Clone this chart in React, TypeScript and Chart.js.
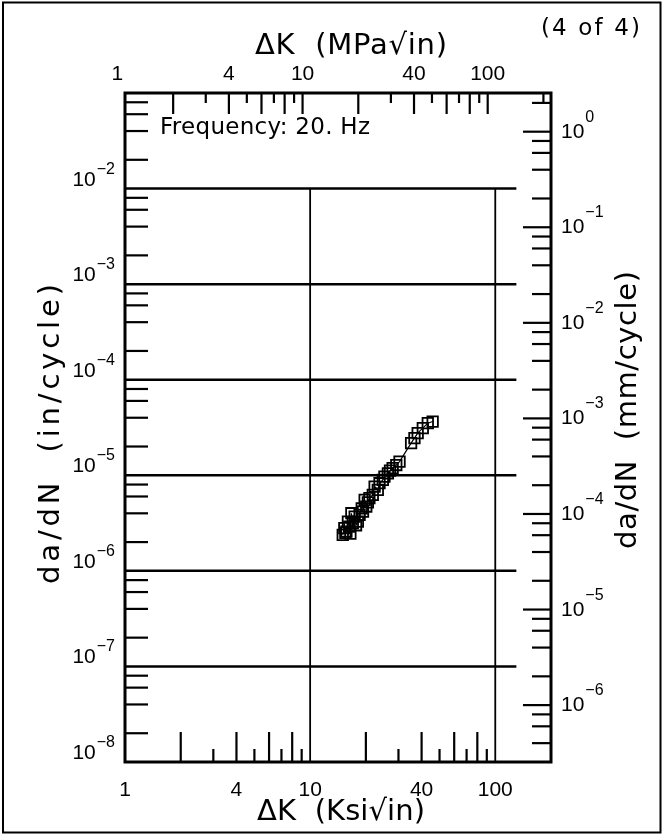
import React, { useEffect, useRef } from "react";
import { Chart, registerables } from "chart.js";

Chart.register(...registerables);

// ---------------- data ----------------
const DK_KSI = [
  15.0, 15.3, 15.5, 15.7, 16.0, 16.3, 16.5, 16.7, 17.0, 17.4, 17.7, 18.1, 18.5,
  19.0, 19.3, 19.7, 20.1, 20.5, 20.9, 21.8, 22.3, 23.2, 23.7, 24.7, 25.2, 26.3,
  27.0, 27.9, 29.2, 30.4, 35.1, 36.6, 38.1, 40.6, 43.2, 45.9,
];
const DADN_IN = [
  2.38e-6, 2.8e-6, 2.5e-6, 2.58e-6, 3.28e-6, 2.91e-6, 2.45e-6, 4.01e-6, 3.15e-6,
  3.7e-6, 3.0e-6, 3.28e-6, 3.85e-6, 4.5e-6, 4.17e-6, 5.53e-6, 4.71e-6, 5.2e-6,
  5.76e-6, 6.24e-6, 7.62e-6, 7.04e-6, 8.26e-6, 8.95e-6, 9.7e-6, 1.05e-5,
  1.12e-5, 1.19e-5, 1.28e-5, 1.39e-5, 2.17e-5, 2.45e-5, 2.76e-5, 3.11e-5,
  3.51e-5, 3.65e-5,
];

const X_MIN = 1;
const X_MAX = 200;
const Y_MIN = 1e-8;
const Y_MAX = 1e-1;
const KSI_TO_MPA = 1.0988;
const IN_TO_MM = 25.4;

const BOTTOM_LABELS = [1, 4, 10, 40, 100];
const TOP_LABELS = [1, 4, 10, 40, 100];
const BOTTOM_LONG_TICKS = [2, 4, 6, 8, 20, 40, 60, 80];
const BOTTOM_SHORT_TICKS = [3, 5, 7, 9, 30, 50, 70, 90];
const TOP_LONG_TICKS = [2, 4, 6, 8, 10, 20, 40, 60, 80, 100];
const TOP_SHORT_TICKS = [3, 5, 7, 9, 30, 50, 70, 90, 200];
const LEFT_DECADES = [-2, -3, -4, -5, -6, -7, -8];
const RIGHT_DECADES = [0, -1, -2, -3, -4, -5, -6];
const MINOR_MULT = [2, 4, 6, 8];
const GRID_Y = [1e-2, 1e-3, 1e-4, 1e-5, 1e-6, 1e-7];
const GRID_X = [10, 100];
const GRID_X_END = 130;
const GRID_Y_TOP = 1e-2;

const TITLE_TOP = "ΔK  (MPa√in)";
const TITLE_BOTTOM = "ΔK  (Ksi√in)";
const TITLE_LEFT = "da/dN  (in/cycle)";
const TITLE_RIGHT = "da/dN  (mm/cycle)";
const NOTE = "Frequency: 20. Hz";
const PAGE = "(4 of 4)";

const FONT = '"DejaVu Sans", "Liberation Sans", sans-serif';
const NUM_FONT = '"Liberation Sans", Arial, sans-serif';

function fitText(
  ctx: CanvasRenderingContext2D,
  s: string,
  x: number,
  y: number,
  size: number,
  width: number,
  align: "left" | "center" | "right" = "center",
  rot = 0
) {
  ctx.save();
  ctx.font = `${size}px ${FONT}`;
  ctx.textAlign = "left";
  ctx.textBaseline = "alphabetic";
  (ctx as any).letterSpacing = "0px";
  const natural = ctx.measureText(s).width;
  const n = Array.from(s).length;
  let ls = 0;
  if (width > 0 && n > 1) ls = (width - natural) / (n - 1);
  (ctx as any).letterSpacing = `${ls}px`;
  const w = natural + ls * (n - 1);
  ctx.translate(x, y);
  if (rot) ctx.rotate(rot);
  const x0 = align === "center" ? -w / 2 : align === "right" ? -w : 0;
  ctx.fillText(s, x0, 0);
  ctx.restore();
}

function seg(ctx: CanvasRenderingContext2D, x1: number, y1: number, x2: number, y2: number) {
  ctx.beginPath();
  ctx.moveTo(x1, y1);
  ctx.lineTo(x2, y2);
  ctx.stroke();
}

function powLabel(
  ctx: CanvasRenderingContext2D,
  exp: number,
  x: number,
  baseY: number,
  expY: number,
  align: "left" | "right"
) {
  ctx.save();
  ctx.textBaseline = "alphabetic";
  ctx.textAlign = "left";
  ctx.font = `21px ${NUM_FONT}`;
  const wb = ctx.measureText("10").width;
  const es = exp < 0 ? "\u2212" + Math.abs(exp) : String(exp);
  ctx.font = `16px ${NUM_FONT}`;
  const we = ctx.measureText(es).width;
  const total = wb + 1 + we;
  const x0 = align === "right" ? x - total : x;
  ctx.font = `21px ${NUM_FONT}`;
  ctx.fillText("10", x0, baseY);
  ctx.font = `16px ${NUM_FONT}`;
  ctx.fillText(es, x0 + wb + 1, expY);
  ctx.restore();
}

const gridPlugin = {
  id: "gridPartial",
  beforeDatasetsDraw(chart: any) {
    const ctx: CanvasRenderingContext2D = chart.ctx;
    const sx = chart.scales.x;
    const sy = chart.scales.y;
    ctx.save();
    ctx.strokeStyle = "#000";
    ctx.lineCap = "butt";
    ctx.lineWidth = 2.5;
    GRID_Y.forEach((v) => {
      const y = sy.getPixelForValue(v);
      seg(ctx, sx.getPixelForValue(X_MIN), y, sx.getPixelForValue(GRID_X_END), y);
    });
    ctx.lineWidth = 1.8;
    GRID_X.forEach((v) => {
      const x = sx.getPixelForValue(v);
      seg(ctx, x, sy.getPixelForValue(Y_MIN), x, sy.getPixelForValue(GRID_Y_TOP));
    });
    ctx.restore();
  },
};

const decorPlugin = {
  id: "decor",
  afterDraw(chart: any) {
    const ctx: CanvasRenderingContext2D = chart.ctx;
    const ca = chart.chartArea;
    const sx = chart.scales.x;
    const sy = chart.scales.y;
    const sxt = chart.scales.xTop;
    const syr = chart.scales.yRight;
    ctx.save();
    ctx.strokeStyle = "#000";
    ctx.fillStyle = "#000";
    ctx.lineCap = "butt";

    // outer border
    ctx.lineWidth = 2;
    ctx.strokeRect(3, 2.5, 657.5, 830);

    // ticks
    ctx.lineWidth = 2.2;
    for (let d = -8; d <= -2; d++) {
      MINOR_MULT.forEach((m) => {
        const v = m * Math.pow(10, d);
        if (v <= Y_MIN || v >= Y_MAX) return;
        const y = sy.getPixelForValue(v);
        seg(ctx, ca.left, y, ca.left + 23, y);
      });
    }
    const rMin = Y_MIN * IN_TO_MM;
    const rMax = Y_MAX * IN_TO_MM;
    for (let d = -8; d <= 0; d++) {
      const dv = Math.pow(10, d);
      if (dv > rMin && dv < rMax) {
        const y = syr.getPixelForValue(dv);
        seg(ctx, ca.right - 28, y, ca.right, y);
      }
      MINOR_MULT.forEach((m) => {
        const v = m * dv;
        if (v <= rMin || v >= rMax) return;
        const y = syr.getPixelForValue(v);
        seg(ctx, ca.right - 19, y, ca.right, y);
      });
    }
    BOTTOM_LONG_TICKS.forEach((v) => {
      const x = sx.getPixelForValue(v);
      seg(ctx, x, ca.bottom, x, ca.bottom - 30);
    });
    BOTTOM_SHORT_TICKS.forEach((v) => {
      const x = sx.getPixelForValue(v);
      seg(ctx, x, ca.bottom, x, ca.bottom - 13);
    });
    TOP_LONG_TICKS.forEach((v) => {
      const x = sxt.getPixelForValue(v);
      seg(ctx, x, ca.top, x, ca.top + 21);
    });
    TOP_SHORT_TICKS.forEach((v) => {
      const x = sxt.getPixelForValue(v);
      seg(ctx, x, ca.top, x, ca.top + 10);
    });

    // frame
    ctx.lineWidth = 3;
    ctx.strokeRect(ca.left, ca.top, ca.right - ca.left, ca.bottom - ca.top);

    // tick labels
    ctx.font = `21px ${NUM_FONT}`;
    ctx.textAlign = "center";
    ctx.textBaseline = "alphabetic";
    BOTTOM_LABELS.forEach((v) => {
      ctx.fillText(String(v), sx.getPixelForValue(v), ca.bottom + 34);
    });
    TOP_LABELS.forEach((v) => {
      ctx.fillText(String(v), sxt.getPixelForValue(v), ca.top - 13);
    });
    LEFT_DECADES.forEach((d) => {
      const y = sy.getPixelForValue(Math.pow(10, d));
      powLabel(ctx, d, ca.left - 10, y - 3, y - 15, "right");
    });
    RIGHT_DECADES.forEach((d) => {
      const y = syr.getPixelForValue(Math.pow(10, d));
      powLabel(ctx, d, ca.right + 10, y + 6, y - 10, "left");
    });

    // titles and notes
    fitText(ctx, TITLE_TOP, 351, 54, 29, 192, "center");
    fitText(ctx, TITLE_BOTTOM, 341, 820, 29, 168, "center");
    fitText(ctx, TITLE_LEFT, 59, 434, 29, 300, "center", -Math.PI / 2);
    fitText(ctx, TITLE_RIGHT, 636, 410, 29, 278, "center", -Math.PI / 2);
    fitText(ctx, NOTE, 160, 134, 23, 210, "left");
    fitText(ctx, PAGE, 541, 35, 23, 99, "left");

    ctx.restore();
  },
};

export default function App() {
  const ref = useRef<HTMLCanvasElement | null>(null);

  useEffect(() => {
    if (!ref.current) return;
    const points = DK_KSI.map((x, i) => ({ x, y: DADN_IN[i] }));
    const chart = new Chart(ref.current, {
      type: "scatter",
      data: {
        datasets: [
          {
            label: "da/dN",
            data: points,
            showLine: true,
            borderColor: "#000",
            borderWidth: 1.2,
            pointStyle: "rect",
            pointRadius: 7.4,
            pointBorderWidth: 1.8,
            pointBorderColor: "#000",
            pointBackgroundColor: "rgba(0,0,0,0)",
            backgroundColor: "rgba(0,0,0,0)",
          },
        ],
      },
      options: {
        animation: false,
        responsive: false,
        devicePixelRatio: 1,
        layout: { padding: { left: 125, top: 93, right: 112, bottom: 73 } },
        plugins: {
          legend: { display: false },
          tooltip: { enabled: false },
        },
        events: [],
        scales: {
          x: { type: "logarithmic", min: X_MIN, max: X_MAX, display: false },
          y: { type: "logarithmic", min: Y_MIN, max: Y_MAX, display: false },
          xTop: {
            type: "logarithmic",
            axis: "x",
            position: "top",
            min: X_MIN * KSI_TO_MPA,
            max: X_MAX * KSI_TO_MPA,
            display: false,
          },
          yRight: {
            type: "logarithmic",
            axis: "y",
            position: "right",
            min: Y_MIN * IN_TO_MM,
            max: Y_MAX * IN_TO_MM,
            display: false,
          },
        },
      } as any,
      plugins: [gridPlugin, decorPlugin],
    });
    return () => chart.destroy();
  }, []);

  return (
    <div
      style={{
        position: "absolute",
        left: 0,
        top: 0,
        width: 663,
        height: 835,
        background: "#fff",
      }}
    >
      <canvas ref={ref} width={663} height={835} style={{ display: "block" }} />
    </div>
  );
}
